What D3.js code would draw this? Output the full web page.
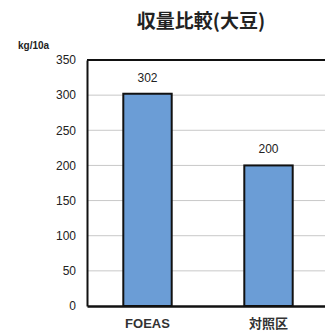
<!DOCTYPE html>
<html><head><meta charset="utf-8">
<script src="https://cdn.jsdelivr.net/npm/d3@7"></script>
<style>body{margin:0;background:#fff}svg{display:block}</style>
</head><body>
<script>
const title = "収量比較(大豆)";
const unitLabel = "kg/10a";
const categories = ["FOEAS", "対照区"];
const values = [302, 200];
const yTicks = [0, 50, 100, 150, 200, 250, 300, 350];

const W = 325, H = 333;
const m = {left: 87, top: 60, right: -4, bottom: 27};
const svg = d3.select("body").append("svg").attr("width", W).attr("height", H);

const x = d3.scaleBand().domain(categories).range([m.left, W - m.right]).paddingInner(0.6).paddingOuter(0.3);
const y = d3.scaleLinear().domain([0, 350]).range([H - m.bottom, m.top]);

// gridlines
svg.append("g").selectAll("line").data(yTicks.filter(d => d > 0 && d < 350)).join("line")
  .attr("x1", m.left).attr("x2", W - m.right)
  .attr("y1", d => y(d)).attr("y2", d => y(d))
  .attr("stroke", "#c8c8c8").attr("stroke-width", 1);

// top border
svg.append("line").attr("x1", m.left).attr("x2", W - m.right)
  .attr("y1", y(350)).attr("y2", y(350)).attr("stroke", "#111").attr("stroke-width", 2);

// bars
svg.append("g").selectAll("rect").data(values).join("rect")
  .attr("x", (d, i) => x(categories[i]))
  .attr("y", d => y(d))
  .attr("width", x.bandwidth())
  .attr("height", d => y(0) - y(d))
  .attr("fill", "#6b9dd6").attr("stroke", "#111").attr("stroke-width", 2);

// value labels
svg.append("g").selectAll("text").data(values).join("text")
  .attr("x", (d, i) => x(categories[i]) + x.bandwidth() / 2)
  .attr("y", d => y(d) - 12)
  .attr("text-anchor", "middle")
  .attr("font-family", "Liberation Sans, Arial, sans-serif")
  .attr("font-size", 12).attr("fill", "#222")
  .text(d => d);

// y axis
const yAxis = d3.axisLeft(y).tickValues(yTicks).tickSize(0).tickPadding(11);
const gy = svg.append("g").attr("transform", `translate(${m.left},0)`).call(yAxis);
gy.select(".domain").attr("stroke", "#111").attr("stroke-width", 2);
gy.selectAll("text").attr("font-family", "Liberation Sans, Arial, sans-serif")
  .attr("font-size", 12).attr("fill", "#222");

// x axis
const xAxis = d3.axisBottom(y.copy ? x : x).tickSize(0).tickPadding(13);
const gx = svg.append("g").attr("transform", `translate(0,${y(0)})`).call(xAxis);
gx.select(".domain").attr("stroke", "#111").attr("stroke-width", 2.5);
gx.selectAll("text").attr("font-family", "Liberation Sans, 'Noto Sans CJK JP', Arial, sans-serif")
  .attr("font-size", 13).attr("font-weight", "bold").attr("fill", "#333");

// unit label
svg.append("text").attr("x", 18).attr("y", 49)
  .attr("font-family", "Liberation Sans, Arial, sans-serif")
  .attr("font-size", 10).attr("font-weight", "bold").attr("fill", "#222")
  .text(unitLabel);

// title
svg.append("text").attr("x", 201).attr("y", 28).attr("text-anchor", "middle")
  .attr("font-family", "'Noto Sans CJK JP', sans-serif")
  .attr("font-size", 19).attr("font-weight", "bold").attr("fill", "#222")
  .text(title);
</script>
</body></html>
